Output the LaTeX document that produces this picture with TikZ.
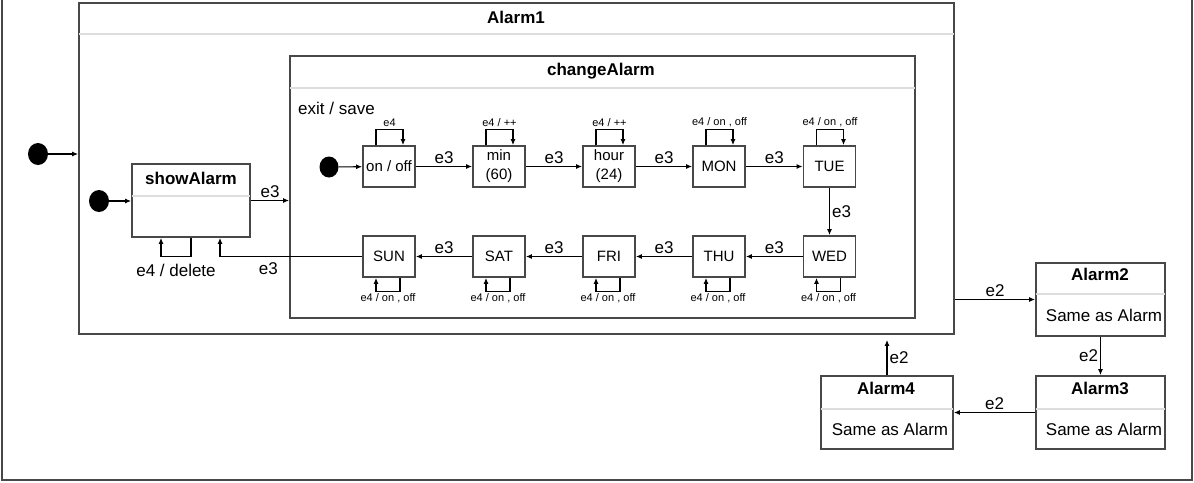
\documentclass[tikz,border=0pt]{standalone}
\usepackage{fontspec}
\setmainfont{Liberation Sans}
\usetikzlibrary{arrows.meta,calc,shapes.geometric}
\definecolor{bord}{HTML}{484848}
\definecolor{sepc}{HTML}{DDDDDD}
\begin{document}
\begin{tikzpicture}[x=1pt,y=-1pt,
  box/.style={draw=bord, line width=1.8pt, rectangle, inner sep=0pt},
  st/.style={box, minimum width=52pt, minimum height=41pt, font=\fontsize{15}{19}\selectfont, align=center},
  big/.style={box, minimum width=129pt, minimum height=73pt},
  arr/.style={-{Latex[length=6pt,width=5pt]}, line width=1.1pt, black},
  lbl/.style={font=\fontsize{17}{20}\selectfont, inner sep=2pt},
  sml/.style={font=\fontsize{11}{13}\selectfont, inner sep=1.5pt},
  ttl/.style={font=\bfseries\fontsize{17}{20}\selectfont},
  sep/.style={draw=sepc, line width=1.4pt},
  dot/.style={ellipse, fill=black, minimum width=20pt, minimum height=22pt, inner sep=0pt}]
\useasboundingbox (0,0) rectangle (1194,482);
% outer frame
\draw[bord, line width=1.6pt] (2,0) -- (2,480) -- (1192,480) -- (1192,0);

% Alarm1 container
\node[box, minimum width=875pt, minimum height=331pt] (A1) at (516.5,168.5) {};
\draw[sep] ([xshift=1pt]A1.west |- 0,34) -- ([xshift=-1pt]A1.east |- 0,34);
\node[ttl] (A1t) at (516,17) {Alarm1};

% changeAlarm container
\node[box, minimum width=625pt, minimum height=262pt] (CA) at (602.5,187) {};
\draw[sep] ([xshift=1pt]CA.west |- 0,88) -- ([xshift=-1pt]CA.east |- 0,88);
\node[ttl] (CAt) at (601,71) {changeAlarm};
\node[lbl, anchor=west] (exitsave) at (296,108) {exit / save};

% showAlarm
\node[box, minimum width=118pt, minimum height=73pt] (show) at (191,200.5) {};
\draw[sep] ([xshift=1pt]show.west |- 0,196) -- ([xshift=-1pt]show.east |- 0,196);
\node[ttl] (showt) at (191,178) {showAlarm};

% initial dots
\node[dot] (i0) at (38,154) {};
\node[dot] (i1) at (99,201) {};
\node[dot, minimum width=19pt, minimum height=21pt] (i2) at (329,167) {};

\draw[arr] (i0) -- (A1.west |- i0);
\draw[arr] (i1) -- (show.west |- i1);

% small states
\node[st] (onoff) at (389,166.5) {on / off};
\node[st] (min) at (499,166.5) {min\\(60)};
\node[st] (hour) at (609,166.5) {hour\\(24)};
\node[st] (mon) at (719,166.5) {MON};
\node[st] (tue) at (829.5,166.5) {TUE};
\node[st] (wed) at (829.5,256.5) {WED};
\node[st] (thu) at (719,256.5) {THU};
\node[st] (fri) at (609,256.5) {FRI};
\node[st] (sat) at (499,256.5) {SAT};
\node[st] (sun) at (389,256.5) {SUN};

\draw[arr] (i2) -- (onoff);
\draw[arr] (onoff) -- node[lbl, above] {e3} (min);
\draw[arr] (min) -- node[lbl, above] {e3} (hour);
\draw[arr] (hour) -- node[lbl, above] {e3} (mon);
\draw[arr] (mon) -- node[lbl, above] {e3} (tue);
\draw[arr] (tue) -- node[lbl, right] {e3} (wed);
\draw[arr] (wed) -- node[lbl, above] {e3} (thu);
\draw[arr] (thu) -- node[lbl, above] {e3} (fri);
\draw[arr] (fri) -- node[lbl, above] {e3} (sat);
\draw[arr] (sat) -- node[lbl, above] {e3} (sun);

% top self loops
\draw[arr] ([xshift=-13pt]onoff.north) -- ++(0,-16) -| node[sml, pos=0.25, above] {e4} ([xshift=14pt]onoff.north);
\draw[arr] ([xshift=-13pt]min.north) -- ++(0,-16) -| node[sml, pos=0.25, above] {e4 / ++} ([xshift=14pt]min.north);
\draw[arr] ([xshift=-13pt]hour.north) -- ++(0,-16) -| node[sml, pos=0.25, above] {e4 / ++} ([xshift=14pt]hour.north);
\draw[arr] ([xshift=-13pt]mon.north) -- ++(0,-16) -| node[sml, pos=0.25, above] {e4 / on , off} ([xshift=14pt]mon.north);
\draw[arr] ([xshift=-13pt]tue.north) -- ++(0,-16) -| node[sml, pos=0.25, above] {e4 / on , off} ([xshift=14pt]tue.north);

% bottom self loops
\draw[arr] ([xshift=11pt]wed.south) -- ++(0,14) -| node[sml, pos=0.25, below] {e4 / on , off} ([xshift=-13pt]wed.south);
\draw[arr] ([xshift=11pt]thu.south) -- ++(0,14) -| node[sml, pos=0.25, below] {e4 / on , off} ([xshift=-13pt]thu.south);
\draw[arr] ([xshift=11pt]fri.south) -- ++(0,14) -| node[sml, pos=0.25, below] {e4 / on , off} ([xshift=-13pt]fri.south);
\draw[arr] ([xshift=11pt]sat.south) -- ++(0,14) -| node[sml, pos=0.25, below] {e4 / on , off} ([xshift=-13pt]sat.south);
\draw[arr] ([xshift=11pt]sun.south) -- ++(0,14) -| node[sml, pos=0.25, below] {e4 / on , off} ([xshift=-13pt]sun.south);

% showAlarm transitions
\draw[arr] (show.east) -- node[lbl, above] {e3} (CA.west |- show.east);
\draw[arr] (show.south) -- ++(0,19) -| node[lbl, pos=0.25, below, yshift=-5pt] {e4 / delete} ([xshift=-30pt]show.south);
\draw[arr] (sun.west) -| node[lbl, pos=0.33, below, yshift=-4pt] {e3} ([xshift=29pt]show.south);

% Alarm2..4
\node[big] (A2) at (1100.5,299.5) {};
\draw[sep] ([xshift=1pt]A2.west |- 0,294) -- ([xshift=-1pt]A2.east |- 0,294);
\node[ttl] (A2t) at (1100,274) {Alarm2};
\node[lbl] (A2b) at (1104,315) {Same as Alarm};

\node[big] (A3) at (1100.5,412.5) {};
\draw[sep] ([xshift=1pt]A3.west |- 0,409) -- ([xshift=-1pt]A3.east |- 0,409);
\node[ttl] (A3t) at (1100,388) {Alarm3};
\node[lbl] (A3b) at (1104,429) {Same as Alarm};

\node[big, minimum width=132pt] (A4) at (887,412.5) {};
\draw[sep] ([xshift=1pt]A4.west |- 0,409) -- ([xshift=-1pt]A4.east |- 0,409);
\node[ttl] (A4t) at (886,388) {Alarm4};
\node[lbl] (A4b) at (890,429) {Same as Alarm};

\coordinate (A1in) at ([yshift=-5pt]A1.south -| A4.north);
\draw[arr] (A1.east |- A2.west) -- node[lbl, above] {e2} (A2.west);
\draw[arr] (A2.south) -- node[lbl, left] {e2} (A3.north);
\draw[arr] (A3.west) -- node[lbl, above] {e2} (A4.east);
\draw[arr] (A4.north) -- node[lbl, right] {e2} (A1in);
\end{tikzpicture}
\end{document}
